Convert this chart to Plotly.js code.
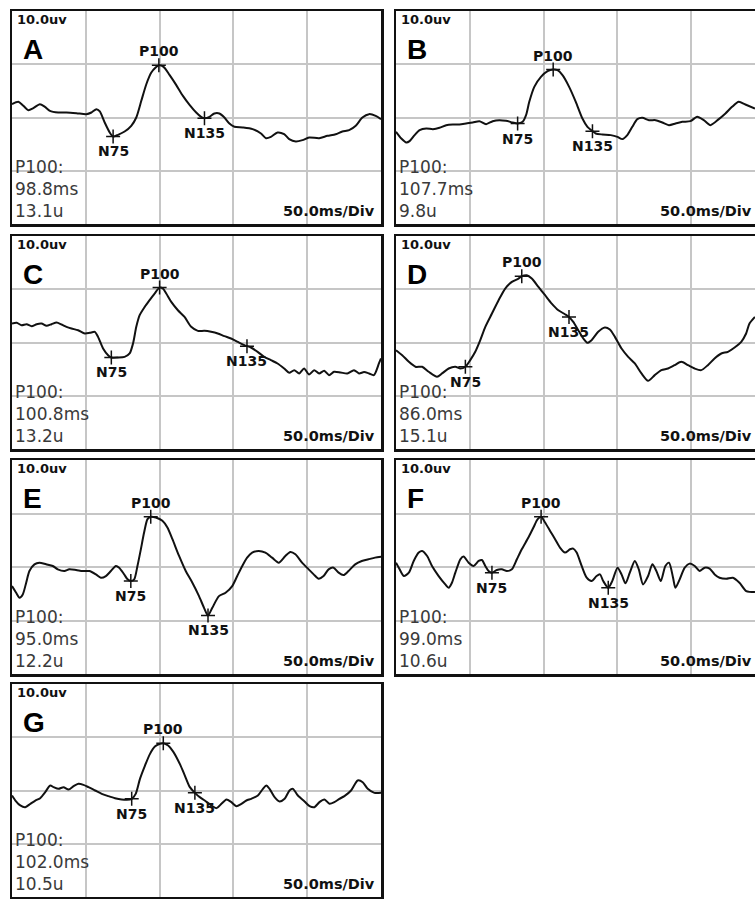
<!DOCTYPE html>
<html><head><meta charset="utf-8">
<script src="https://cdn.plot.ly/plotly-3.0.1.min.js"></script>
<style>html,body{margin:0;padding:0;background:#fff;overflow:hidden}#chart{width:755px;height:899px}</style>
</head><body><div id="chart"></div>
<script>
// ---------- DATA (time in ms, amplitude in µV; 50 ms/div, 10 µV/div) ----------
const panelLetters = ['A','B','C','D','E','F','G'];
const p100Latency = ['98.8ms','107.7ms','100.8ms','86.0ms','95.0ms','99.0ms','102.0ms'];
const p100Amplitude = ['13.1u','9.8u','13.2u','15.1u','12.2u','10.6u','10.5u'];
const peakNames = ['N75','P100','N135'];
const sensitivityLabel = '10.0uv';
const sweepLabel = '50.0ms/Div';

const timeA = [0,4.3,7.7,11.0,14.4,18.9,22.3,25.7,31.3,36.9,43.7,50.4,53.8,57.2,59.5,62.8,66.2,68.5,71.8,76.3,80.8,84.2,87.6,91.0,94.4,97.3,99.5,102.7,106.7,111.2,115.8,120.3,124.8,128.1,130.4,133.8,137.1,140.5,143.9,147.3,150.7,156.3,163.0,168.7,172.1,175.4,179.9,184.4,187.8,192.3,196.8,201.3,208.1,213.7,219.3,223.8,228.4,232.9,237.4,241.9,246.4,250];
const voltA = [2.5,2.94,2.19,1.38,1.75,2.5,2.0,1.25,0.94,0.94,0.81,0.63,0.94,1.56,1.13,-0.94,-2.81,-3.56,-3.25,-2.63,-1.56,0,3.13,6.25,8.44,9.38,9.81,9.5,8.0,6.13,4.06,2.38,0.94,0.13,-0.13,0.13,0.75,0.75,0,-1.13,-1.75,-1.88,-2.19,-3.0,-3.88,-3.63,-2.81,-3.13,-4.06,-4.5,-4.25,-3.75,-3.88,-3.44,-3.13,-2.63,-2.38,-1.56,0,0.63,0.31,-0.31];
const peakTimeA = [68.5, 99.5, 130.4];
const peakVoltA = [-3.56, 9.81, -0.13];

const timeB = [0,3.6,7.0,9.2,12.6,16.0,20.5,25.0,29.5,34.0,38.5,43.0,47.5,52.0,56.5,61.0,65.5,70.0,74.5,79.0,82.4,85.8,88.1,90.3,93.7,98.2,102.7,106.5,109.4,112.8,117.3,121.8,126.3,129.7,133.1,135.3,139.8,145.5,150.0,153.4,156.7,160.1,163.5,166.9,171.4,175.9,180.4,184.9,189.4,193.9,199.5,204.0,208.5,213.0,218.7,223.2,227.7,232.2,236.7,243.2];
const voltB = [-2.69,-3.94,-4.69,-4.44,-3.31,-2.38,-2.06,-2.19,-1.94,-1.44,-1.31,-1.31,-1.13,-0.94,-0.69,-1.25,-0.69,-0.5,-0.63,-0.94,-1.13,-0.81,0.44,2.94,5.75,7.63,8.69,9.0,8.88,7.94,5.75,2.94,-0.19,-1.75,-2.56,-3.0,-3.19,-3.31,-3.63,-4.06,-3.31,-1.75,-0.31,-0.06,-0.5,-0.5,-0.94,-1.44,-1.13,-0.81,-0.69,0.13,-0.5,-1.44,-0.31,0.75,2.0,2.94,2.44,1.69];
const peakTimeB = [82.4, 106.5, 133.1];
const peakVoltB = [-1.13, 9.0, -2.56];

const timeC = [0,3.2,6.5,9.9,13.3,16.7,20.0,23.4,26.8,30.2,33.6,36.9,40.3,44.8,49.3,52.7,56.1,58.3,61.7,65.1,67.3,71.8,76.3,79.7,82.0,84.2,86.5,89.9,93.2,96.6,100.0,102.2,104.5,107.9,112.4,116.9,121.4,125.9,130.4,134.9,139.4,143.9,148.4,152.9,157.4,161.9,166.4,170.9,175.4,179.9,184.4,187.8,191.2,194.6,197.9,201.3,204.7,208.1,211.5,214.8,218.2,222.7,227.2,231.7,235.1,238.5,241.9,245.2,248.6,250];
const voltC = [3.56,3.69,3.25,3.44,3.06,3.44,3.56,3.13,3.44,3.75,3.38,2.94,2.63,2.31,1.69,1.81,2.0,1.06,-1.13,-2.38,-2.81,-2.81,-2.69,-2.06,-0.19,2.94,5.13,6.69,7.94,9.19,10.31,10.13,9.19,7.63,6.06,4.81,2.94,2.19,2.19,2.0,1.69,1.19,0.75,0.13,-0.5,-0.94,-1.75,-2.69,-3.31,-3.94,-4.88,-5.69,-5.19,-5.81,-4.88,-6.0,-5.19,-5.81,-5.31,-6.13,-5.5,-5.63,-5.81,-5.19,-5.81,-5.56,-5.81,-6.13,-3.94,-3.0];
const peakTimeC = [67.3, 100.0, 159.2];
const peakVoltC = [-2.81, 10.31, -0.7];

const timeD = [0,4.2,8.7,13.2,17.7,22.2,27.8,31.2,35.7,40.2,43.6,47.0,50.3,53.7,57.1,60.5,65.0,69.5,74.0,78.5,83.0,85.2,88.6,92.0,96.5,101.0,105.5,110.0,114.5,117.2,120.1,123.5,126.9,129.6,132.5,137.0,141.5,144.9,148.3,152.8,157.3,161.8,166.3,170.8,175.3,179.8,184.3,188.8,193.3,197.8,202.3,206.8,211.3,215.8,220.4,224.9,229.4,233.9,237.2,239.5,243.2];
const voltD = [-1.44,-2.38,-3.63,-4.56,-4.56,-5.5,-6.44,-5.81,-4.88,-4.56,-4.88,-4.56,-3.31,-1.75,0.44,2.94,5.44,7.94,10.13,11.38,12.0,12.44,12.63,12.0,10.44,8.88,7.31,6.06,5.31,4.81,3.88,2.31,0.75,-0.06,0.44,2.0,2.81,2.44,1.06,-1.13,-2.69,-3.94,-5.81,-7.19,-6.13,-5.19,-4.88,-4.25,-3.63,-4.25,-4.88,-5.19,-4.25,-3.0,-2.06,-1.75,-0.94,0.13,1.69,3.56,4.81];
const peakTimeD = [47.0, 85.2, 117.2];
const peakVoltD = [-4.56, 12.44, 4.81];

const timeE = [0,2.8,5.1,7.3,9.6,11.8,15.2,18.6,23.1,27.6,31.0,35.5,38.8,43.4,47.9,52.4,56.9,60.2,63.6,67.0,70.4,72.6,76.0,78.3,80.5,82.8,85.0,87.3,89.5,91.8,94.0,97.4,101.9,105.3,108.7,113.2,117.7,122.2,126.7,130.1,132.8,135.7,140.2,144.7,149.2,152.6,156.0,159.3,162.7,167.2,171.7,176.2,180.7,185.2,188.6,192.0,196.5,201.0,204.4,207.8,211.1,214.5,217.9,221.3,224.6,228.0,232.5,237.0,241.5,246.0,250];
const voltE = [-3.56,-4.81,-5.75,-5.13,-2.94,-0.75,0.5,0.81,0.5,0.19,-0.44,-0.75,-0.44,-0.56,-0.75,-0.75,-1.38,-2.0,-1.69,-0.75,0.19,-0.13,-1.38,-2.31,-2.63,-2.31,0.19,3.31,6.44,8.94,9.38,9.25,8.63,7.38,5.19,2.06,-0.75,-2.94,-5.44,-7.63,-9.06,-7.63,-5.44,-4.81,-3.56,-1.69,0.19,1.75,2.69,3.0,2.69,1.75,0.81,2.06,2.81,2.38,0.81,-0.44,-1.38,-2.19,-1.69,-0.44,-0.13,-1.06,-1.5,-0.75,0.5,1.13,1.44,1.75,1.94];
const peakTimeE = [80.5, 94.0, 132.8];
const peakVoltE = [-2.63, 9.38, -9.06];

const timeF = [0,1.9,5.3,8.7,12.0,15.4,17.7,21.1,24.4,28.9,33.4,35.7,37.9,40.2,43.6,45.8,49.2,52.6,56.0,58.2,60.5,62.7,65.0,68.3,71.7,75.1,78.5,81.9,85.2,89.7,93.1,96.0,98.3,101.0,104.4,107.8,111.1,114.5,117.9,120.1,122.4,125.8,129.2,132.5,135.9,138.2,140.4,143.8,146.5,150.1,152.8,155.5,158.4,161.8,164.5,167.4,170.8,173.7,176.4,179.4,182.5,185.0,187.7,189.3,192.2,195.6,199.0,202.4,205.7,209.1,212.5,215.9,219.2,223.7,228.2,232.7,237.3,243.2];
const voltF = [0.81,-0.13,-1.69,-1.06,1.13,2.69,3.0,2.06,0.19,-1.69,-3.25,-3.88,-2.94,-1.06,1.44,1.94,0.81,0.19,1.13,1.31,0.19,-0.75,-1.06,-0.56,-0.44,-0.75,-0.44,1.44,3.31,5.5,7.38,8.94,9.38,8.31,6.75,5.19,3.63,2.69,3.31,3.44,2.69,0.19,-2.0,-2.63,-1.69,-1.38,-2.63,-3.88,-2.63,-0.13,-1.38,-3.06,-1.06,1.13,-0.44,-3.25,-1.69,0.5,-0.75,-2.63,0.19,0.81,-2.0,-3.88,-2.31,-0.13,0.63,0.19,-0.75,-0.13,-0.31,-1.38,-2.0,-2.19,-2.0,-2.94,-4.5,-4.69];
const peakTimeF = [65.0, 98.3, 143.8];
const peakVoltF = [-1.06, 9.38, -3.88];

const timeG = [0,2.3,5.6,9.0,12.4,15.8,19.1,22.5,25.9,28.2,31.5,34.9,38.3,41.7,45.0,48.4,51.8,56.3,60.8,65.3,69.8,74.3,77.7,81.1,83.8,86.7,90.1,93.5,96.8,100.2,102.5,105.8,109.2,113.7,117.1,120.5,123.9,127.2,130.6,135.1,138.5,141.9,145.3,148.6,152.0,155.4,158.8,162.1,166.6,170.0,172.3,174.5,177.9,181.3,184.7,188.0,190.3,193.7,198.2,201.6,204.9,208.3,211.7,215.1,218.4,221.8,225.2,229.7,234.2,237.6,241.0,245.5,250];
const voltG = [-0.94,-1.88,-2.81,-3.13,-2.5,-1.88,-1.44,-0.31,0.94,0.63,0.31,0.63,0.19,0.81,1.25,1.06,0.63,0,-0.63,-1.06,-1.44,-1.69,-1.75,-1.56,-0.63,2.19,4.69,6.88,8.25,8.75,8.88,8.44,7.31,5.0,2.81,0.63,-0.44,-1.25,-1.88,-2.81,-3.31,-2.5,-1.69,-2.19,-2.94,-2.5,-1.88,-1.56,-0.94,0.31,0.94,0.31,-1.25,-2.06,-1.56,0,0.31,-0.94,-2.06,-2.94,-3.13,-2.19,-1.69,-2.5,-2.19,-1.56,-1.06,0,1.88,1.56,0.31,-0.44,-0.44];
const peakTimeG = [81.1, 102.5, 123.9];
const peakVoltG = [-1.56, 8.88, -0.44];

// ---------- BUILD ----------
const panels = [
  {t: timeA, v: voltA, pt: peakTimeA, pv: peakVoltA},
  {t: timeB, v: voltB, pt: peakTimeB, pv: peakVoltB},
  {t: timeC, v: voltC, pt: peakTimeC, pv: peakVoltC},
  {t: timeD, v: voltD, pt: peakTimeD, pv: peakVoltD},
  {t: timeE, v: voltE, pt: peakTimeE, pv: peakVoltE},
  {t: timeF, v: voltF, pt: peakTimeF, pv: peakVoltF},
  {t: timeG, v: voltG, pt: peakTimeG, pv: peakVoltG}
];

const W = 755, H = 899;
const colPx = [[12, 381], [396, 755]];
const rowPx = [[11, 224], [236, 449], [460, 674], [684, 897]];
const divPx = (colPx[0][1] - colPx[0][0]) / 5;
const gridColor = '#c6c6c6';
const ink = '#111';
const boldFont = 'DejaVu Sans, Verdana, sans-serif';

const data = [];
const annotations = [];
const layout = {
  width: W, height: H,
  margin: {l: 0, r: 0, t: 0, b: 0},
  paper_bgcolor: '#fff', plot_bgcolor: '#fff',
  showlegend: false,
  annotations: annotations
};

panels.forEach((p, i) => {
  const col = i % 2, row = Math.floor(i / 2);
  const sfx = i ? String(i + 1) : '';
  const xa = 'x' + sfx, ya = 'y' + sfx;
  const cp = colPx[col], rp = rowPx[row];
  const xMax = (cp[1] - cp[0]) / divPx * 50;
  layout['xaxis' + sfx] = {
    domain: [cp[0] / W, cp[1] / W], range: [0, xMax], anchor: ya,
    showgrid: true, gridcolor: gridColor, gridwidth: 2, tick0: 0, dtick: 50,
    showticklabels: false, ticks: '', zeroline: false,
    showline: true, mirror: true, linecolor: ink, linewidth: 2.5, fixedrange: true
  };
  layout['yaxis' + sfx] = {
    domain: [1 - rp[1] / H, 1 - rp[0] / H], range: [-20, 20], anchor: xa,
    showgrid: true, gridcolor: gridColor, gridwidth: 2, tick0: 0, dtick: 10,
    showticklabels: false, ticks: '', zeroline: false,
    showline: true, mirror: col === 0, linecolor: ink, linewidth: 2.5, fixedrange: true
  };
  data.push({
    type: 'scatter', mode: 'lines', x: p.t, y: p.v, xaxis: xa, yaxis: ya,
    line: {color: ink, width: 2, shape: 'spline', smoothing: 0.7},
    hoverinfo: 'skip', cliponaxis: true
  });
  data.push({
    type: 'scatter', mode: 'markers', x: p.pt, y: p.pv, xaxis: xa, yaxis: ya,
    marker: {symbol: 'cross-thin', size: 10, color: ink, line: {color: ink, width: 1.5}},
    hoverinfo: 'skip'
  });
  const dx = xa + ' domain', dy = ya + ' domain';
  // panel letter
  annotations.push({xref: dx, yref: dy, x: 0, y: 1, xanchor: 'left', yanchor: 'top',
    xshift: 9, yshift: -21, showarrow: false, text: '<b>' + panelLetters[i] + '</b>',
    font: {family: 'Liberation Sans, Arial, sans-serif', size: 28, color: '#000'}});
  // sensitivity
  annotations.push({xref: dx, yref: dy, x: 0, y: 1, xanchor: 'left', yanchor: 'top',
    xshift: 3, yshift: 1, showarrow: false, text: '<b>' + sensitivityLabel + '</b>',
    font: {family: boldFont, size: 13, color: '#111'}});
  // info block (three lines)
  annotations.push({xref: dx, yref: dy, x: 0, y: 0, xanchor: 'left', yanchor: 'bottom',
    align: 'left', xshift: 1, yshift: 1, showarrow: false,
    text: ['P100:', p100Latency[i], p100Amplitude[i]].join('<br>'),
    font: {family: 'DejaVu Sans, sans-serif', size: 17, color: '#3a3a3a'}});
  // sweep label (kept fully inside the page in the right column)
  annotations.push({xref: dx, yref: dy, x: 0, y: 0, xanchor: 'left', yanchor: 'bottom',
    xshift: col ? 262 : 269, yshift: 3, showarrow: false, text: '<b>' + sweepLabel + '</b>',
    font: {family: boldFont, size: 14.5, color: '#111'}});
  // peak labels
  p.pt.forEach((tt, k) => {
    annotations.push({xref: xa, yref: ya, x: tt, y: p.pv[k], xanchor: 'center', yanchor: 'middle',
      yshift: peakNames[k] === 'P100' ? 14 : -15, showarrow: false,
      text: '<b>' + peakNames[k] + '</b>',
      font: {family: boldFont, size: 14, color: '#111'}});
  });
});

Plotly.newPlot('chart', data, layout, {staticPlot: true, displayModeBar: false});
</script>
</body></html>
